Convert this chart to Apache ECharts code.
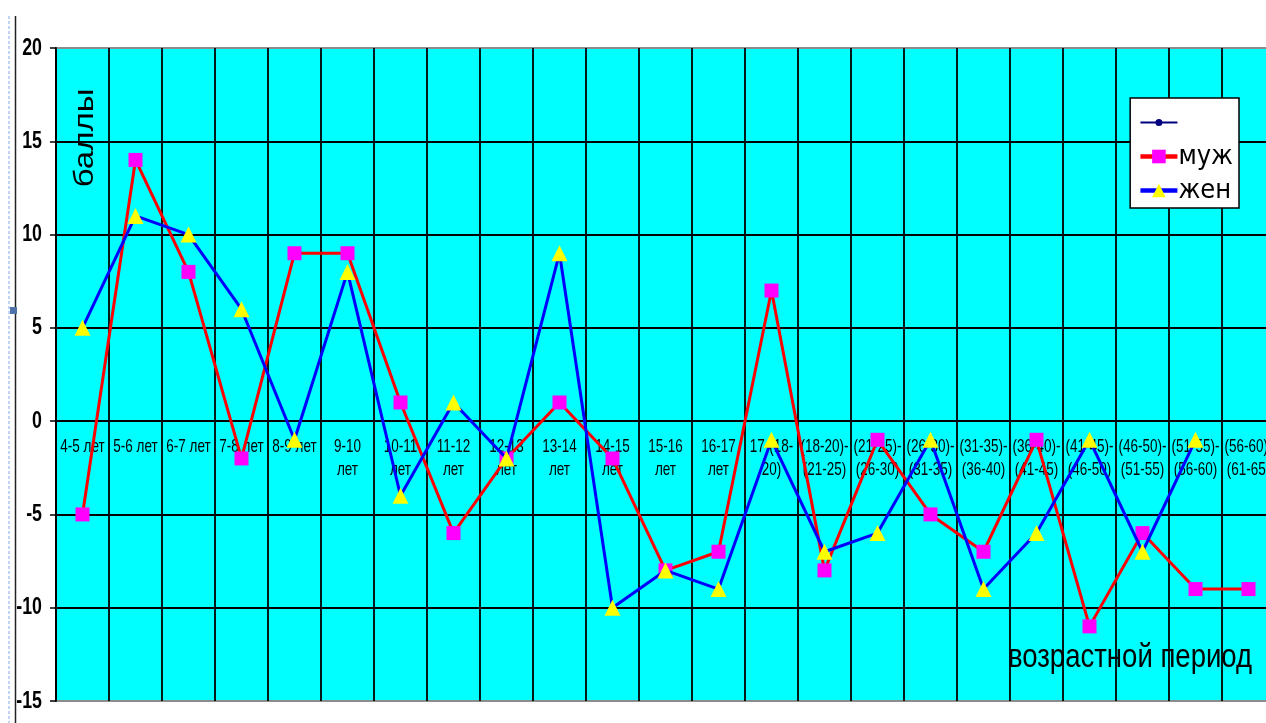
<!DOCTYPE html>
<html>
<head>
<meta charset="utf-8">
<script src="https://cdn.jsdelivr.net/npm/echarts@6/dist/echarts.min.js"></script>
<style>
  html, body { margin: 0; padding: 0; background: #ffffff; }
  #chart { width: 1266px; height: 723px; }
</style>
</head>
<body>
<div id="chart"></div>
<script>
// Age periods (axis categories)
const categories = [
  '4-5 лет', '5-6 лет', '6-7 лет', '7-8 лет', '8-9 лет',
  '9-10\nлет', '10-11\nлет', '11-12\nлет', '12-13\nлет', '13-14\nлет',
  '14-15\nлет', '15-16\nлет', '16-17\nлет', '17-(18-\n20)',
  '(18-20)-\n(21-25)', '(21-25)-\n(26-30)', '(26-30)-\n(31-35)',
  '(31-35)-\n(36-40)', '(36-40)-\n(41-45)', '(41-45)-\n(46-50)',
  '(46-50)-\n(51-55)', '(51-55)-\n(56-60)', '(56-60)-\n(61-65)'
];

// Scores, men
const male = [-5, 14, 8, -2, 9, 9, 1, -6, -2, 1, -2, -8, -7, 7, -8, -1, -5, -7, -1, -11, -6, -9, -9];

// Scores, women
const female = [5, 11, 10, 6, -1, 8, -4, 1, -2, 9, -10, -8, -9, -1, -7, -6, -1, -9, -6, -1, -7, -1, null];

// Value axis ticks
const yTicks = [-15, -10, -5, 0, 5, 10, 15, 20];

const SANS = "'Liberation Sans', Arial, sans-serif";
const COND = "'DejaVu Sans Condensed', 'Liberation Sans', Arial, sans-serif";

// outer gridlines grey, inner ones black
const hLineColors = yTicks.map((v, i) => (i === 0 || i === yTicks.length - 1) ? '#8c8c8c' : '#000');

// thin navy line with a small dot, for the unnamed legend entry
const dotLineIcon = 'path://M0,2.5 L37,2.5 L37,4.5 L0,4.5 Z M15,3.5 A3.5,3.5 0 1 1 22,3.5 A3.5,3.5 0 1 1 15,3.5 Z';

const chart = echarts.init(document.getElementById('chart'), null, { renderer: 'canvas' });

chart.setOption({
  backgroundColor: '#ffffff',
  animation: false,
  grid: {
    left: 56, right: -9, top: 48, bottom: 22,
    containLabel: false,
    outerBoundsMode: 'none',
    show: true,
    backgroundColor: '#00ffff',
    borderColor: '#8c8c8c',
    borderWidth: 2
  },
  legend: {
    orient: 'vertical',
    right: 27,
    top: 98,
    backgroundColor: '#ffffff',
    borderColor: '#000000',
    borderWidth: 1.5,
    borderRadius: 0,
    padding: [11, 6, 4, 8],
    itemWidth: 37,
    itemHeight: 17,
    itemGap: 7,
    selectedMode: false,
    symbolKeepAspect: true,
    data: [
      { name: ' ', icon: dotLineIcon, itemStyle: { color: '#000080' } },
      { name: 'муж', lineStyle: { width: 4.5 } },
      { name: 'жен', lineStyle: { width: 4.5 } }
    ],
    textStyle: { fontSize: 27, color: '#000', fontFamily: COND, padding: [0, 0, 0, -4] }
  },
  xAxis: {
    type: 'category',
    data: categories,
    boundaryGap: true,
    axisLine: { show: false },
    axisTick: { show: false },
    axisLabel: { show: false },
    splitLine: { show: true, interval: 0, lineStyle: { color: '#000', width: 1.8 } }
  },
  yAxis: {
    type: 'value',
    min: yTicks[0],
    max: yTicks[yTicks.length - 1],
    interval: yTicks[1] - yTicks[0],
    axisLine: { show: true, onZero: false, lineStyle: { color: '#000', width: 1.8 } },
    axisTick: { show: true, inside: false, length: 6, lineStyle: { color: '#000', width: 1.5 } },
    axisLabel: { show: false },
    splitLine: { show: true, lineStyle: { color: hLineColors, width: 1.8 } }
  },
  series: [
    {
      name: ' ',
      type: 'line',
      data: [],
      symbol: 'circle',
      symbolSize: 6,
      itemStyle: { color: '#000080' },
      lineStyle: { color: '#000080', width: 1.5 }
    },
    {
      name: 'муж',
      type: 'line',
      data: male,
      symbol: 'rect',
      symbolSize: 14,
      itemStyle: { color: '#ff00ff' },
      lineStyle: { color: '#ff0000', width: 3 },
      z: 3
    },
    {
      name: 'жен',
      type: 'line',
      data: female,
      symbol: 'triangle',
      symbolSize: 16,
      itemStyle: { color: '#ffff00' },
      lineStyle: { color: '#0000ff', width: 3 },
      z: 4
    },
    // category labels written along the zero line, narrow face
    {
      name: 'category-labels',
      type: 'custom',
      silent: true,
      clip: false,
      z: 1,
      data: categories.map((c, i) => [i, 0]),
      renderItem: function (params, api) {
        const p = api.coord([api.value(0), 0]);
        return {
          type: 'text',
          x: p[0],
          y: p[1] + 14,
          scaleX: 0.71,
          style: {
            text: categories[params.dataIndex],
            font: '19px ' + SANS,
            fill: '#000',
            align: 'center',
            verticalAlign: 'top',
            lineHeight: 23
          }
        };
      }
    },
    // value tick labels on the left, narrow bold face
    {
      name: 'value-labels',
      type: 'custom',
      silent: true,
      clip: false,
      z: 1,
      data: yTicks.map(v => [0, v]),
      renderItem: function (params, api) {
        const p = api.coord([0, api.value(1)]);
        return {
          type: 'text',
          x: params.coordSys.x - 14,
          y: p[1],
          scaleX: 0.74,
          style: {
            text: String(api.value(1)),
            font: 'bold 24px ' + SANS,
            fill: '#000',
            align: 'right',
            verticalAlign: 'middle'
          }
        };
      }
    }
  ],
  graphic: [
    // page margin marks on the left
    { type: 'line', z: 10, shape: { x1: 9, y1: 16, x2: 9, y2: 723 },
      style: { stroke: '#7fa6e8', lineWidth: 1, lineDash: [3, 2] } },
    { type: 'line', z: 10, shape: { x1: 15.5, y1: 16, x2: 15.5, y2: 723 },
      style: { stroke: '#222', lineWidth: 1.5 } },
    { type: 'rect', z: 11, shape: { x: 10, y: 307, width: 7, height: 7 },
      style: { fill: '#4f73a8' } },
    // axis titles
    { type: 'text', z: 20, x: 85, y: 138, rotation: Math.PI / 2, scaleY: 0.85,
      style: { text: 'баллы', font: '33px ' + SANS, fill: '#000',
               align: 'center', verticalAlign: 'middle' } },
    { type: 'text', z: 20, x: 1130, y: 658, scaleX: 0.81,
      style: { text: 'возрастной период', font: '34px ' + SANS, fill: '#000',
               align: 'center', verticalAlign: 'middle' } }
  ]
});
</script>
</body>
</html>
